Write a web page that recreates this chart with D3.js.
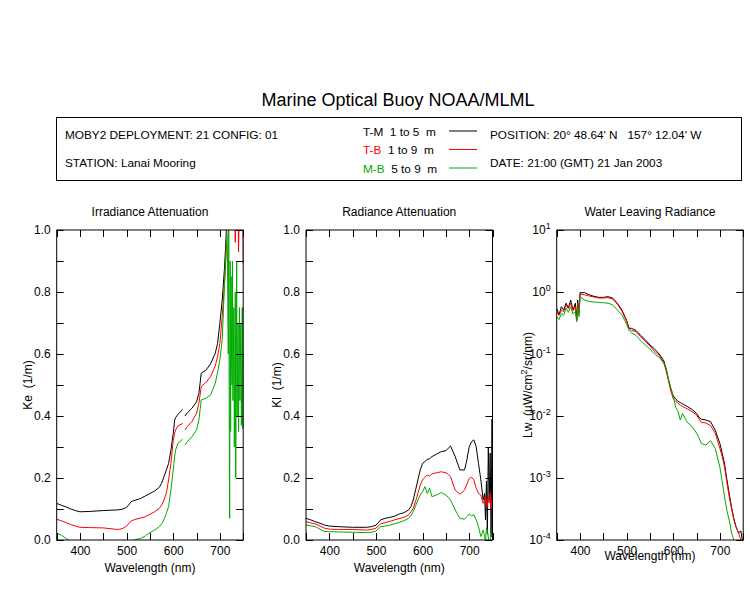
<!DOCTYPE html>
<html lang="en">
<head>
<meta charset="utf-8">
<title>Marine Optical Buoy NOAA/MLML</title>
<script src="https://cdn.jsdelivr.net/npm/d3@7"></script>
<style>
  body { margin: 0; background: #fff; }
  svg { font-family: "Liberation Sans", Arial, sans-serif; }
  text { white-space: pre; }
  .axis path { display: none; }
  .axis text { font-size: 12px; fill: #000; }
</style>
</head>
<body>
<script>
// ---- data ----
// null = break in the trace
var keWl = [350,360,370,380,390,400,420,450,480,490,500,510,520,530,540,550,560,570,575,580,585,590,595,600,603,605,610,620,622,
            625,630,640,650,655,660,670,680,690,695,700,705,710,713,715,716,718,719,720,721,722,723,724,725,726,727,728,730,731,733,734,736,737,739,740,742,743,745,746,748,749,750];
var keTM = [0.118,0.112,0.107,0.100,0.095,0.091,0.092,0.095,0.097,0.099,0.105,0.124,0.129,0.134,0.142,0.150,0.158,0.170,0.183,0.204,0.225,0.247,0.290,0.344,0.387,0.395,0.405,0.421,null,
            0.400,0.410,0.425,0.446,0.473,0.538,0.548,0.568,0.602,0.634,0.699,0.774,0.880,0.968,1.05,1.1,1.1,1.1,1.1,1.1,1.1,1.1,1.1,1.1,1.1,1.1,1.1,1.1,1.1,1.1,1.1,1.1,1.1,1.1,1.1,1.1,1.1,1.1,1.1,1.1,1.1,1.1];
var keTB = [0.067,0.062,0.056,0.050,0.045,0.041,0.040,0.039,0.034,0.036,0.045,0.062,0.067,0.071,0.075,0.083,0.091,0.102,0.112,0.129,0.150,0.194,0.247,0.323,0.345,0.355,0.368,0.376,null,
            0.355,0.366,0.382,0.409,0.441,0.495,0.508,0.527,0.561,0.591,0.634,0.720,0.828,0.914,1.0,1.05,1.1,1.1,1.05,1.1,1.1,1.1,1.1,1.1,1.1,1.1,1.1,1.1,1.1,0.96,1.1,1.1,1.1,1.1,0.93,1.1,1.1,1.1,1.1,1.05,1.1,0.89];
var keMB = [0.022,0.016,0.005,-0.005,-0.01,-0.01,-0.01,-0.01,-0.01,-0.01,-0.01,-0.005,0.002,0.005,0.013,0.024,0.032,0.043,0.052,0.065,0.085,0.108,0.161,0.226,0.270,0.290,0.312,0.325,null,
            0.306,0.317,0.333,0.355,0.387,0.452,0.457,0.468,0.505,0.540,0.581,0.645,0.830,0.920,0.990,0.95,0.60,1.0,0.40,0.07,0.90,0.35,0.85,0.60,0.50,0.90,0.45,0.75,0.30,0.80,0.20,0.90,0.40,0.70,0.35,0.75,0.45,0.70,0.37,0.75,0.36,0.60];

var klWl = [350,360,370,380,390,400,420,450,480,490,500,505,510,520,530,540,550,560,570,575,580,585,590,595,600,605,610,615,620,630,640,650,655,660,670,680,690,695,700,705,710,715,720,725,730,733,735,737,739,741,743,745,747,749,750];
var klTM = [0.070,0.065,0.059,0.054,0.048,0.045,0.043,0.041,0.041,0.043,0.048,0.056,0.065,0.070,0.073,0.077,0.084,0.088,0.097,0.108,0.129,0.161,0.194,0.226,0.247,0.253,0.260,0.262,0.269,0.277,0.285,0.288,0.296,0.303,0.269,0.226,0.226,0.258,0.301,0.317,0.323,0.301,0.247,0.194,0.129,0.150,0.065,0.190,0.020,0.300,0.130,0.280,0.010,0.390,0.150];
var klTB = [0.059,0.055,0.052,0.045,0.038,0.035,0.034,0.034,0.032,0.034,0.038,0.045,0.052,0.056,0.060,0.065,0.069,0.073,0.081,0.090,0.102,0.125,0.150,0.177,0.194,0.202,0.210,0.206,0.213,0.217,0.220,0.217,0.212,0.204,0.161,0.148,0.161,0.180,0.199,0.202,0.194,0.167,0.150,0.145,0.118,0.130,0.140,0.110,0.108,0.140,0.120,0.150,0.100,0.130,0.150];
var klMB = [0.048,0.046,0.043,0.035,0.027,0.027,0.026,0.025,0.024,0.025,0.029,0.036,0.043,0.045,0.048,0.052,0.057,0.062,0.070,0.078,0.091,0.110,0.129,0.145,0.156,0.172,0.150,0.167,0.140,0.145,0.153,0.145,0.138,0.129,0.097,0.070,0.067,0.075,0.084,0.078,0.081,0.065,0.043,0.011,0.032,0.015,-0.010,0.040,0.030,0.010,-0.010,-0.010,0.020,0.010,0.020];

var lwWl = [350,355,360,365,370,375,380,385,390,393,395,398,400,410,420,430,440,450,460,470,480,490,500,505,510,520,530,540,550,560,570,580,585,590,595,600,605,610,615,620,630,640,650,655,660,670,680,690,700,705,710,715,720,725,730,735,740,745,748,750];
var lwTM = [0.545,0.43,0.58,0.51,0.66,0.55,0.74,0.51,0.66,0.35,0.74,0.45,0.975,0.975,0.90,0.85,0.82,0.82,0.84,0.80,0.66,0.51,0.35,0.26,0.26,0.24,0.20,0.17,0.14,0.12,0.10,0.077,0.056,0.038,0.027,0.021,0.019,0.0172,0.0165,0.0157,0.0142,0.0128,0.0110,0.0096,0.0089,0.0086,0.0081,0.0059,0.0036,0.0025,0.0017,9.5e-4,5.6e-4,3.4e-4,2.2e-4,1.6e-4,1.3e-4,1.4e-4,1.0e-4,0.9e-4];
var lwTB = [0.48,0.42,0.51,0.48,0.62,0.54,0.66,0.50,0.58,0.36,0.66,0.45,0.93,0.90,0.86,0.83,0.80,0.80,0.81,0.77,0.64,0.49,0.34,0.26,0.24,0.23,0.19,0.16,0.135,0.11,0.095,0.071,0.052,0.036,0.025,0.019,0.0175,0.016,0.015,0.0142,0.0130,0.0118,0.0104,0.0090,0.0079,0.0077,0.0070,0.0053,0.0030,0.0022,0.0015,8.5e-4,5.0e-4,3.2e-4,2.1e-4,1.6e-4,1.3e-4,1.0e-4,0.9e-4,0.9e-4];
var lwMB = [0.40,0.36,0.45,0.42,0.55,0.47,0.58,0.44,0.48,0.33,0.55,0.40,0.84,0.74,0.70,0.69,0.68,0.67,0.66,0.62,0.51,0.43,0.30,0.24,0.22,0.20,0.165,0.14,0.12,0.10,0.088,0.070,0.058,0.038,0.028,0.021,0.014,0.012,0.0086,0.011,0.0079,0.0068,0.0053,0.0045,0.0036,0.0034,0.0040,0.0030,0.0015,8.7e-4,5.0e-4,3.0e-4,2.1e-4,1.3e-4,1.0e-4,0.9e-4,0.9e-4,0.9e-4,0.9e-4,0.9e-4];

var xTicks = [350,400,450,500,550,600,650,700,750];
var linTicks = [0,0.1,0.2,0.3,0.4,0.5,0.6,0.7,0.8,0.9,1.0];
var logTicks = [1e-4,1e-3,1e-2,1e-1,1,10];
var logExps = ["-4","-3","-2","-1","0","1"];

var seriesNames = ["T-M", "T-B", "M-B"];
var seriesDepth = ["1 to 5  m", "1 to 9  m", "5 to 9  m"];
var seriesColors = ["#000000", "#ff0000", "#00aa00"];

// ---- layout ----
var W = 750, H = 600;
var plotTop = 230, ph = 310, pw = 186.5;
var lefts = [56.7, 306, 556.7];

var svg = d3.select("body").append("svg")
  .attr("width", W).attr("height", H);

svg.append("text")
  .attr("x", 398).attr("y", 106)
  .attr("text-anchor", "middle")
  .style("font-size", "18px")
  .text("Marine Optical Buoy NOAA/MLML");

// header box
svg.append("rect")
  .attr("x", 56.5).attr("y", 117.5).attr("width", 685).attr("height", 63)
  .attr("fill", "none").attr("stroke", "#000");

var info = svg.append("g").style("font-size", "11.8px");
info.append("text").attr("x", 65).attr("y", 139).text("MOBY2 DEPLOYMENT: 21 CONFIG: 01");
info.append("text").attr("x", 65).attr("y", 167).text("STATION: Lanai Mooring");
info.append("text").attr("x", 490).attr("y", 139).text("POSITION: 20° 48.64' N   157° 12.04' W");
info.append("text").attr("x", 490).attr("y", 167).text("DATE: 21:00 (GMT) 21 Jan 2003");

seriesNames.forEach(function(n, i) {
  var y = 135.5 + i * 18.5;
  var t = info.append("text").attr("x", 363).attr("y", y);
  t.append("tspan").attr("fill", seriesColors[i]).text(n);
  t.append("tspan").text("  " + seriesDepth[i]);
  info.append("line")
    .attr("x1", 449).attr("x2", 477)
    .attr("y1", y - 4.5).attr("y2", y - 4.5)
    .attr("stroke", seriesColors[i]);
});

function makePanel(idx, title, ylabel, wl, series, yScale, yTickVals, yFmt, xLabelY) {
  var x0 = lefts[idx], x1 = lefts[idx] + pw, yb = plotTop + ph;
  var x = d3.scaleLinear().domain([350, 750]).range([x0, x1]);
  var y = yScale.range([yb, plotTop]);
  var g = svg.append("g");

  svg.append("defs").append("clipPath").attr("id", "clip" + idx)
    .append("rect").attr("x", x0).attr("y", plotTop).attr("width", pw).attr("height", ph);

  var line = d3.line()
    .defined(function(d) { return d[1] !== null; })
    .x(function(d) { return x(d[0]); })
    .y(function(d) { return y(d[1]); });

  series.forEach(function(vals, i) {
    g.append("path")
      .datum(wl.map(function(w, j) { return [w, vals[j]]; }))
      .attr("clip-path", "url(#clip" + idx + ")")
      .attr("fill", "none")
      .attr("stroke", seriesColors[i])
      .attr("stroke-width", 1)
      .attr("d", line);
  });

  g.append("rect")
    .attr("x", x0).attr("y", plotTop).attr("width", pw).attr("height", ph)
    .attr("fill", "none").attr("stroke", "#000");

  // labels through d3 axes
  g.append("g").attr("class", "axis")
    .attr("transform", "translate(0," + yb + ")")
    .call(d3.axisBottom(x).tickValues(xTicks).tickSize(0).tickPadding(6)
      .tickFormat(function(d) { return (d % 100 === 0) ? d : ""; }));

  var yl = g.append("g").attr("class", "axis")
    .attr("transform", "translate(" + x0 + ",0)")
    .call(d3.axisLeft(y).tickValues(yTickVals).tickSize(0).tickPadding(6).tickFormat(yFmt));

  // inward tick marks on all four sides
  var tg = svg.append("g").attr("fill", "#000");
  tg.selectAll("rect.xb").data(xTicks).enter().append("rect")
    .attr("x", function(v) { return Math.round(x(v)); }).attr("y", yb - 7)
    .attr("width", 1).attr("height", 7);
  tg.selectAll("rect.xt").data(xTicks).enter().append("rect")
    .attr("x", function(v) { return Math.round(x(v)); }).attr("y", plotTop)
    .attr("width", 1).attr("height", 7);
  tg.selectAll("rect.yl").data(yTickVals).enter().append("rect")
    .attr("x", x0).attr("y", function(v) { return Math.round(y(v)); })
    .attr("width", 7).attr("height", 1);
  tg.selectAll("rect.yr").data(yTickVals).enter().append("rect")
    .attr("x", x1 - 7).attr("y", function(v) { return Math.round(y(v)); })
    .attr("width", 7).attr("height", 1);

  svg.append("text")
    .attr("x", x0 + pw / 2).attr("y", 216)
    .attr("text-anchor", "middle").style("font-size", "12px")
    .text(title);

  svg.append("text")
    .attr("x", x0 + pw / 2).attr("y", xLabelY)
    .attr("text-anchor", "middle").style("font-size", "12px")
    .text("Wavelength (nm)");

  var lab = svg.append("text")
    .attr("transform", "translate(" + (x0 - 25) + ",385) rotate(-90)")
    .attr("text-anchor", "middle").style("font-size", "12px");
  ylabel(lab);
  return yl;
}

var fmt1 = function(d) { return (Math.round(d * 10) % 2 === 0) ? d.toFixed(1) : ""; };

makePanel(0, "Irradiance Attenuation",
  function(t) { t.text("Ke  (1/m)"); },
  keWl, [keTM, keTB, keMB], d3.scaleLinear().domain([0, 1]), linTicks, fmt1, 572);

makePanel(1, "Radiance Attenuation",
  function(t) { t.text("Kl  (1/m)"); },
  klWl, [klTM, klTB, klMB], d3.scaleLinear().domain([0, 1]), linTicks, fmt1, 572);

var ylog = makePanel(2, "Water Leaving Radiance",
  function(t) {
    t.append("tspan").text("Lw  (µW/cm");
    t.append("tspan").attr("dy", -5).style("font-size", "9px").text("2");
    t.append("tspan").attr("dy", 5).text("/sr/nm)");
  },
  lwWl, [lwTM, lwTB, lwMB], d3.scaleLog().domain([1e-4, 10]), logTicks, function() { return ""; }, 560);

// superscript decade labels
ylog.selectAll(".tick").each(function(d, i) {
  var t = d3.select(this).select("text").text("");
  t.append("tspan").text("10");
  t.append("tspan").attr("dy", -5).style("font-size", "9px").text(logExps[i]);
});
</script>
</body>
</html>
